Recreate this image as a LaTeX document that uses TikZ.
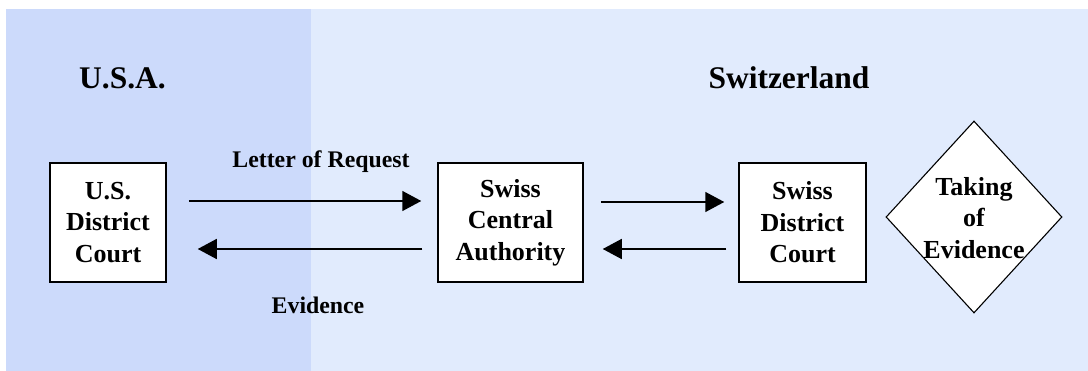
\documentclass[tikz,border=0pt]{standalone}
\usepackage{fontspec}
\setmainfont{Liberation Serif}
\usetikzlibrary{shapes.geometric,arrows.meta}
\definecolor{usaBlue}{RGB}{204,218,251}
\definecolor{swissBlue}{RGB}{225,235,253}
\tikzset{
  court/.style={draw=black, line width=1.5pt, fill=white, align=center,
    inner sep=0pt, font=\bfseries\fontsize{26}{31.5}\selectfont},
  country/.style={anchor=base, font=\bfseries\fontsize{31.5}{36}\selectfont},
  flowlabel/.style={anchor=base, font=\bfseries\fontsize{23.8}{28}\selectfont},
  flow/.style={line width=1.5pt, -{Triangle[length=19pt,width=20pt]}},
}
\begin{document}
\begin{tikzpicture}[x=1pt,y=-1pt]
  \useasboundingbox (0,0) rectangle (1088,371);
  % country areas
  \fill[usaBlue] (6,9) rectangle (311,371);
  \fill[swissBlue] (311,9) rectangle (1088,371);

  \node[country] (usa) at (122.5,89) {U.S.A.};
  \node[country] (ch) at (789,89) {Switzerland};

  % courts and authority
  \node[court, minimum width=116pt, minimum height=119pt] (usdc) at (108,222.5) {U.S.\\District\\Court};
  \node[court, minimum width=145pt, minimum height=119pt] (sca) at (510.5,222.5) {Swiss\\Central\\Authority\rule[-1.5pt]{0pt}{0pt}};
  \node[court, minimum width=127pt, minimum height=119pt] (sdc) at (802.5,222.5) {Swiss\\District\\Court};

  % taking of evidence
  \node[diamond, draw=black, line width=1.1pt, fill=white, inner sep=0pt,
        minimum width=176pt, minimum height=192pt] (toe) at (974,217) {};
  \node[court, draw=none, fill=none] (toetext) at ([yshift=-1pt]toe.center) {Taking\\of\\Evidence};

  % request and evidence flows
  \draw[flow, shorten <=22pt, shorten >=16pt] ([yshift=21.5pt]usdc.east) -- ([yshift=21.5pt]sca.west);
  \draw[flow, shorten <=15pt, shorten >=31pt] ([yshift=-26.5pt]sca.west) -- ([yshift=-26.5pt]usdc.east);
  \draw[flow, shorten <=17pt, shorten >=14pt] ([yshift=20.5pt]sca.east) -- ([yshift=20.5pt]sdc.west);
  \draw[flow, shorten <=12pt, shorten >=19pt] ([yshift=-26.5pt]sdc.west) -- ([yshift=-26.5pt]sca.east);

  \node[flowlabel] (lor) at (321,168) {Letter of Request};
  \node[flowlabel] (evi) at (318,314) {Evidence};
\end{tikzpicture}
\end{document}
